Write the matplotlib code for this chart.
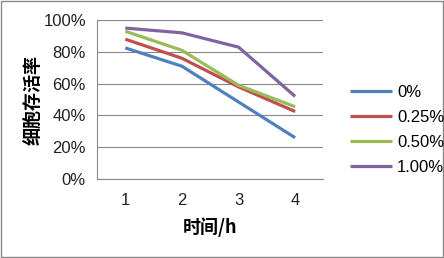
import matplotlib
matplotlib.use("Agg")
import matplotlib.pyplot as plt
from matplotlib.patches import Rectangle

plt.rcParams['font.family'] = ['Liberation Sans', 'Noto Sans CJK SC', 'DejaVu Sans']

# 时间 (h) 与各浓度下的细胞存活率 (%)
hours = [1, 2, 3, 4]
labels = ['0%', '0.25%', '0.50%', '1.00%']
s0 = [82.5, 71, 48.5, 26]
s025 = [88, 76, 58, 42.5]
s050 = [93, 81, 59, 45.5]
s100 = [95, 92, 83, 52]
colors = ['#4F81BD', '#C0504D', '#9BBB59', '#8064A2']

fig = plt.figure(figsize=(4.44, 2.58), dpi=100)
ax = fig.add_axes([0.2185, 0.306, 0.51, 0.616])

for ys, lab, c in zip([s0, s025, s050, s100], labels, colors):
    ax.plot(hours, ys, color=c, lw=2.3, label=lab, solid_capstyle='butt')

ax.set_xlim(0.5, 4.5)
ax.set_ylim(0, 100)
ax.set_yticks(range(0, 101, 20))
ax.set_yticklabels([f'{v}%' for v in range(0, 101, 20)])
ax.set_xticks(hours)
ax.grid(axis='y', color='#888888', lw=0.8)
ax.set_axisbelow(True)
for s in ['top', 'right']:
    ax.spines[s].set_visible(False)
ax.spines['left'].set_color('#888888')
ax.spines['bottom'].set_color('#888888')
ax.tick_params(length=0, labelsize=12, colors='#222222')
ax.tick_params(axis='x', pad=10)
ax.tick_params(axis='y', pad=8)

ax.set_xlabel('时间/h', fontsize=13, fontweight='bold', labelpad=7,
              family=['Noto Sans CJK SC', 'DejaVu Sans'])
ax.set_ylabel('细胞存活率', fontsize=13, fontweight='bold', labelpad=0,
              family=['Noto Sans CJK SC', 'DejaVu Sans'])

fig.legend(loc='upper left', bbox_to_anchor=(0.755, 0.728), frameon=False,
           fontsize=12, handlelength=2.5, labelspacing=0.6, handletextpad=0.3)

fig.patches.append(Rectangle((0.002, 0.004), 0.996, 0.992, transform=fig.transFigure,
                             fill=False, edgecolor='#888888', lw=1))

fig.savefig('out.png', dpi=100)
